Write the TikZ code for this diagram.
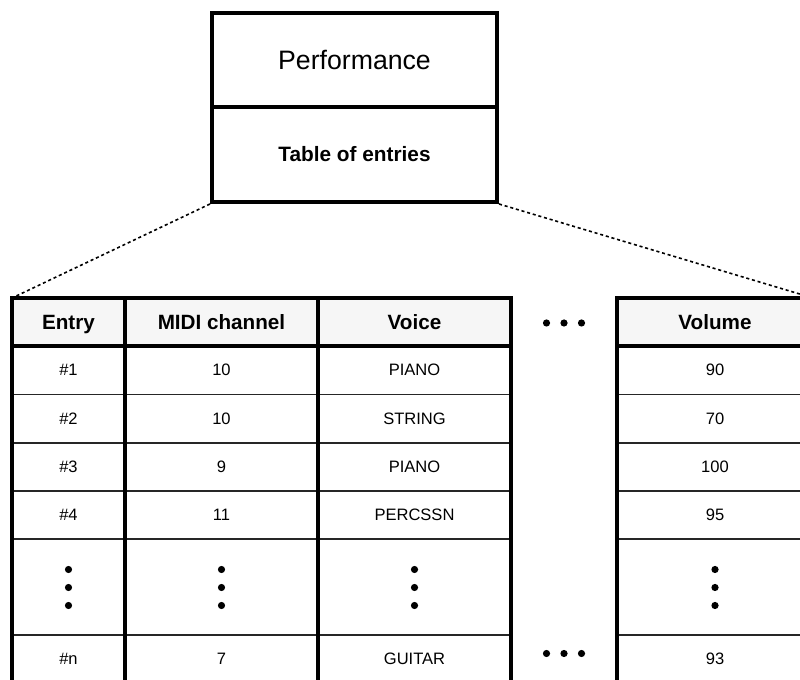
\documentclass[tikz,border=0pt]{standalone}
\usepackage{fontspec}
\setmainfont{Liberation Sans}
\definecolor{headfill}{HTML}{F6F6F6}
\begin{document}
\begin{tikzpicture}[x=0.75pt,y=-0.75pt,
  heavy/.style={line width=3pt},
  light/.style={line width=1.1pt, black!85},
  guide/.style={line width=1.2pt, dash pattern=on 2.3pt off 2.1pt},
  blockpart/.style={draw, heavy, minimum width=285*0.75pt, inner sep=0pt},
  headtext/.style={font=\fontsize{15.5}{18}\selectfont\bfseries, inner sep=0pt,
    text height=11.2pt, text depth=0pt},
  celltext/.style={font=\fontsize{12.4}{15}\selectfont, inner sep=0pt,
    text height=8.9pt, text depth=0pt},
  dot/.style={radius=3.6}]
\useasboundingbox (0,0) rectangle (800,680);
\clip (0,0) rectangle (800,680);

% Performance block
\node[blockpart, minimum height=94*0.75pt] (perf) at (354.5,60)
  {\fontsize{20}{24}\selectfont Performance};
\node[blockpart, minimum height=95*0.75pt] (toe) at (354.5,154.5)
  {\fontsize{15.6}{18}\selectfont\bfseries Table of entries};

% table corners
\coordinate (tl) at (12,298);
\coordinate (tr) at (813,298);

% header shading
\fill[headfill] (12,298) rectangle (511,346);
\fill[headfill] (617,298) rectangle (813,346);

% thin row separators
\foreach \y in {394.5,443,491,539,635} {
  \draw[light] (12,\y) -- (511,\y);
  \draw[light] (617,\y) -- (813,\y);
}

% heavy frame and column rules
\draw[heavy] (tl) rectangle (511,700);
\draw[heavy] (125,298) -- (125,700);
\draw[heavy] (318,298) -- (318,700);
\draw[heavy] (12,346) -- (511,346);
\draw[heavy] (617,298) rectangle (tr |- 0,700);
\draw[heavy] (617,346) -- (813,346);

% zoom guides
\draw[guide] (toe.south west) -- (tl);
\draw[guide] (toe.south east) -- (tr);

% headers
\node[headtext] (h-entry) at (68.5,322) {Entry};
\node[headtext] (h-midi) at (221.5,322) {MIDI channel};
\node[headtext] (h-voice) at (414.5,322) {Voice};
\node[headtext] (h-volume) at (715,322) {Volume};

% cells
\foreach \r/\y/\a/\b/\c/\d in {1/370/\#1/10/PIANO/90,
    2/418.5/\#2/10/STRING/70, 3/467/\#3/9/PIANO/100,
    4/515/\#4/11/PERCSSN/95, n/659/\#n/7/GUITAR/93} {
  \node[celltext] (entry-\r) at (68.5,\y) {\a};
  \node[celltext] (midi-\r) at (221.5,\y) {\b};
  \node[celltext] (voice-\r) at (414.5,\y) {\c};
  \node[celltext] (volume-\r) at (715,\y) {\d};
}

% vertical ellipses
\foreach \x in {68.5,221.5,414.5,715} {
  \foreach \y in {569.5,587.5,605.5}
    \fill (\x,\y) circle[dot];
}

% horizontal ellipses between the tables
\foreach \y in {323,653.5} {
  \foreach \x in {546.5,564,581.5}
    \fill (\x,\y) circle[dot];
}
\end{tikzpicture}
\end{document}
